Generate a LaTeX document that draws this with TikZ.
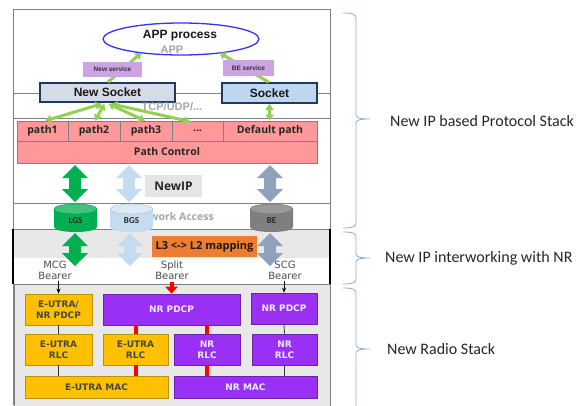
\documentclass[tikz,border=0pt]{standalone}
\usepackage{fontspec}
\setmainfont{Liberation Sans}
\newfontfamily\osans{Open Sans}
\newfontfamily\carl{Carlito}
\newfontfamily\dvs{DejaVu Sans}
\usetikzlibrary{arrows.meta,calc,shapes.geometric}
\newcommand\fsz[1]{\fontsize{#1}{#1}\selectfont}
\definecolor{pathpink}{HTML}{FF9999}
\definecolor{svcpurple}{HTML}{CCA3E3}
\definecolor{navy}{HTML}{1F3864}
\definecolor{nsockfill}{HTML}{D6DCE5}
\definecolor{sockfill}{HTML}{BDD7EE}
\definecolor{lgreen}{HTML}{92D050}
\definecolor{dgreen}{HTML}{00B050}
\definecolor{lblue}{HTML}{C5DCF0}
\definecolor{gblue}{HTML}{8FA1BD}
\definecolor{becol}{HTML}{7F7F7F}
\definecolor{betop}{HTML}{999999}
\definecolor{ryellow}{HTML}{FFC000}
\definecolor{rpurple}{HTML}{9B30F5}
\definecolor{orng}{HTML}{ED7D31}
\definecolor{ellblue}{HTML}{3333FF}
\definecolor{bracecol}{HTML}{8FAADC}
\newcommand\blkarrow[4]{%
  \fill[#4] (#1,#2) -- ++(13,13) -- ++(-7,0) -- (#1+6,#3-13) -- ++(7,0) -- (#1,#3)
    -- ++(-13,-13) -- ++(7,0) -- (#1-6,#2+13) -- ++(-7,0) -- cycle;}
\newcommand\mycyl[5]{% x, body colour, top colour, name, text
  \fill[#2] (#1-21.5,209) -- (#1-21.5,227) .. controls (#1-21.5,233.67) and (#1+21.5,233.67) .. (#1+21.5,227) -- (#1+21.5,209) -- cycle;
  \filldraw[fill=#3, draw=#2!85!black, line width=0.4] (#1,209) ellipse [x radius=21.5, y radius=5];
  \node[font=\carl\bfseries\fsz{9}, text=black!85] (#4) at (#1,221) {#5};}
\newcommand\mybrace[3]{% top, tip, bottom
  \draw[bracecol, line width=0.8] (343,#1) .. controls (352,#1) and (356,#1+1) .. (356,#1+5)
    -- (356,#2-4) .. controls (356,#2-1) and (360,#2) .. (370,#2)
    .. controls (360,#2) and (356,#2+1) .. (356,#2+4)
    -- (356,#3-5) .. controls (356,#3-1) and (352,#3) .. (343,#3);}
\begin{document}
\begin{tikzpicture}[x=1pt,y=-1pt,
  frame/.style={draw=black!50, line width=0.8},
  pathcell/.style={draw=black!50, fill=pathpink, line width=0.6, minimum height=20, inner sep=0, font=\osans\bfseries\fsz{10.5}, text=black!85},
  svc/.style={fill=svcpurple, inner sep=0, font=\bfseries\fsz{6.5}, text=black!80},
  sockbox/.style={draw=navy, line width=1.8, inner sep=0, font=\bfseries\fsz{12}, text=black!90},
  lga/.style={draw=lgreen, line width=3, {Triangle[width=8pt,length=6pt]}-{Triangle[width=8pt,length=6pt]}},
  lgs/.style={draw=lgreen, line width=3, -{Triangle[width=8pt,length=6pt]}},
  ybox/.style={fill=ryellow, draw=ryellow!75!black, line width=0.6, inner sep=0, align=center, font=\dvs\bfseries\fontsize{9}{11}\selectfont, text=black!72},
  pbox/.style={fill=rpurple, draw=rpurple!70!black, line width=0.6, inner sep=0, align=center, font=\dvs\bfseries\fontsize{9}{11}\selectfont, text=white!92!blue},
  bearer/.style={align=center, inner sep=0, font=\dvs\fontsize{10}{11}\selectfont, text=black!70},
  blk/.style={draw=black, line width=0.8, -{Stealth[length=5pt,width=4pt]}},
  redl/.style={draw=red, line width=4},
  thinl/.style={draw=black!80, line width=0.8},
  bracelabel/.style={anchor=west, inner sep=0, font=\carl\fsz{16}, text=black!85}
]
\useasboundingbox (0,0) rectangle (587,405);
\fill[white] (0,0) rectangle (587,405);
% ---------- bands and frame ----------
\fill[black!9] (13,229) rectangle (330,258);
\filldraw[fill=black!9, draw=black!50, line width=0.8] (14,284) rectangle (330,410);
\draw[frame] (13,9) -- (330,9);
\draw[frame] (13,9) -- (13,405);
\draw[frame] (330,9) -- (330,405);
\draw[frame] (13,93) -- (330,93);
\draw[frame] (13,118) -- (330,118);
\draw[frame] (13,203) -- (330,203);
\draw[frame] (13,229) -- (330,229);
\draw[frame] (13,284) -- (330,284);
\draw[black, line width=2] (13,229) -- (13,284);
\draw[black, line width=2] (330,229) -- (330,284);
% ---------- application ----------
\node[draw=ellblue, line width=1.3, fill=white, ellipse, minimum width=156, minimum height=32, inner sep=0] (app) at (181,39) {};
\node[font=\bfseries\fsz{11}, text=black!35] (apptag) at (172,50) {APP};
\node[font=\bfseries\fsz{12}, text=black!90] (apptxt) at (180,36) {APP process};
% sockets
\node[sockbox, fill=nsockfill, minimum width=135, minimum height=19] (nsock) at (107.5,92.5) {New Socket};
\node[sockbox, fill=sockfill, minimum width=95, minimum height=20] (sock) at (269.5,93) {Socket};
\node[font=\bfseries\fsz{11}, text=black!35] (tcp) at (172,107) {TCP/UDP/...};
% service arrows
\draw[lgs] ($(nsock.north)+(0.5,0)$) -- ($(app.south west)+(16,2)$);
\draw[lgs] ($(sock.north)+(-1,0)$) -- ($(app.south east)+(-17,2)$);
\node[svc, minimum width=59, minimum height=15] (nsvc) at (112.5,69.5) {New service};
\node[svc, minimum width=51, minimum height=16] (besvc) at (248.5,68) {BE service};
% paths
\node[pathcell, minimum width=51] (p1) at (42.5,131) {path1};
\node[pathcell, minimum width=52] (p2) at (94,131) {path2};
\node[pathcell, minimum width=52] (p3) at (146,131) {path3};
\node[pathcell, minimum width=51] (pd) at (197.5,131) {...};
\node[pathcell, minimum width=94] (pdef) at (270,131) {Default path};
\node[pathcell, minimum width=300, minimum height=22] (pctl) at (167,152) {Path Control};
\draw[lga] ($(nsock.south)+(-6,1)$) -- ($(p1.north)+(3,0)$);
\draw[lga] ($(nsock.south)+(-3,1)$) -- ($(p2.north)+(1,0)$);
\draw[lga] ($(nsock.south)+(1,1)$) -- ($(p3.north)+(-1,0)$);
\draw[lga] ($(nsock.south)+(4,1)$) -- ($(pd.north)+(-7,1)$);
\draw[lga] (sock.south) -- (sock.south |- pdef.north);
% ---------- NewIP ----------
\node[fill=black!10, minimum width=57, minimum height=22, inner sep=0, font=\osans\bfseries\fsz{12}, text=black!85] (newip) at (173.5,186) {NewIP};
\blkarrow{75}{165}{202}{dgreen}
\blkarrow{129}{165}{202}{lblue}
\blkarrow{270}{165}{202}{gblue}
\node[font=\osans\bfseries\fsz{10.5}, text=black!35] (netacc) at (172,217) {Network Access};
\mycyl{75.5}{dgreen}{dgreen!75!white}{lgs}{LGS}
\mycyl{131.5}{lblue}{lblue!60!white}{bgs}{BGS}
\mycyl{271.5}{becol}{betop}{be}{BE}
% ---------- interworking ----------
\blkarrow{75}{233}{266}{dgreen}
\blkarrow{130}{233}{266}{lblue}
\blkarrow{270}{233}{266}{gblue}
\node[fill=orng, minimum width=105, minimum height=21, inner sep=0, font=\osans\bfseries\fsz{11}, text=black!90] (map) at (204.5,246.5) {L3 <-> L2 mapping};
\node[bearer] (mcg) at (55,270.5) {MCG\\Bearer};
\node[bearer] (split) at (172,270.5) {Split\\Bearer};
\node[bearer] (scg) at (285,270.5) {SCG\\Bearer};
% ---------- radio stack ----------
\node[ybox, minimum width=67, minimum height=31] (epdcp) at (58.5,309.5) {E-UTRA/\\NR PDCP};
\node[pbox, minimum width=137, minimum height=31] (npdcp1) at (171.5,309.5) {NR PDCP};
\node[pbox, minimum width=66, minimum height=31] (npdcp2) at (284,308.5) {NR PDCP};
\node[ybox, minimum width=67, minimum height=31] (erlc1) at (58.5,349.5) {E-UTRA\\RLC};
\node[ybox, minimum width=65, minimum height=31] (erlc2) at (135.5,349.5) {E-UTRA\\RLC};
\node[pbox, minimum width=66, minimum height=31] (nrlc1) at (207,349.5) {NR\\RLC};
\node[pbox, minimum width=65, minimum height=31] (nrlc2) at (284.5,349.5) {NR\\RLC};
\node[ybox, minimum width=143, minimum height=22] (emac) at (96.5,387) {E-UTRA MAC};
\node[pbox, minimum width=143, minimum height=22] (nmac) at (245.5,387) {NR MAC};
\draw[blk] (epdcp.north |- mcg.south) ++(0,1) -- (epdcp.north);
\draw[blk] (npdcp2.north |- scg.south) ++(0,1) -- (npdcp2.north);
\draw[draw=red, line width=4, -{Triangle[width=12pt,length=7pt]}] (npdcp1.north |- split.south) ++(0,2) -- (npdcp1.north);
\draw[thinl] (epdcp.south) -- (erlc1.north);
\draw[thinl] (erlc1.south) -- (erlc1.south |- emac.north);
\draw[thinl] (npdcp2.south) -- (nrlc2.north);
\draw[thinl] (nrlc2.south) -- (nrlc2.south |- nmac.north);
\draw[redl] (erlc2.north) -- (erlc2.north |- npdcp1.south);
\draw[redl] (erlc2.south) -- (erlc2.south |- emac.north);
\draw[redl] (nrlc1.north) -- (nrlc1.north |- npdcp1.south);
\draw[redl] (nrlc1.south) -- (nrlc1.south |- nmac.north);
% ---------- braces ----------
\begin{scope}
\clip (0,0) rectangle (587,405);
\mybrace{13}{119}{228}
\mybrace{232}{258}{284}
\mybrace{288}{349}{410}
\end{scope}
\node[bracelabel] (l1) at (390,121) {New IP based Protocol Stack};
\node[bracelabel] (l2) at (385,258) {New IP interworking with NR};
\node[bracelabel] (l3) at (387,349) {New Radio Stack};
\end{tikzpicture}
\end{document}
